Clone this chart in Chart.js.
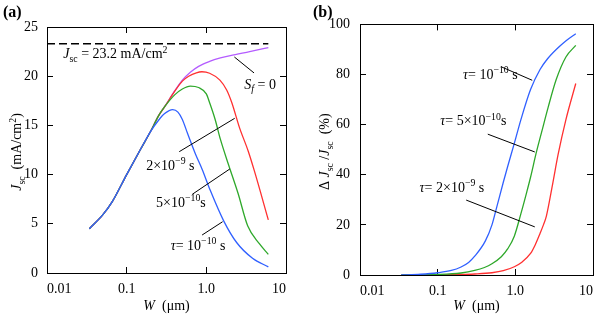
<!DOCTYPE html>
<html>
<head>
<meta charset="utf-8">
<script src="https://cdn.jsdelivr.net/npm/chart.js"></script>
<style>
  body { margin: 0; background: #fff; }
  #wrap { position: relative; width: 607px; height: 317px; }
  canvas { position: absolute; top: 0; }
</style>
</head>
<body>
<div id="wrap">
  <canvas id="chartA" width="300" height="317" style="left:0"></canvas>
  <canvas id="chartB" width="307" height="317" style="left:300px"></canvas>
</div>
<script>
// axis ticks
const xTicks = [0.01, 0.1, 1, 10];
const xTickLabels = ["0.01", "0.1", "1.0", "10"];
const jscMax = 25;
const jscStep = 5;
const dJMax = 100;
const dJStep = 20;

// (a) Jsc vs W, shared rising part
const riseW = [0.034, 0.05, 0.066, 0.1, 0.15, 0.2];
const riseJ = [4.5, 5.9, 7.25, 10.0, 12.6, 14.4];

const sf0W = [0.25, 0.3, 0.4, 0.5, 0.63, 0.8, 1.1, 1.5, 2, 3.5, 6];
const sf0J = [15.95, 16.9, 18.5, 19.6, 20.4, 21.0, 21.5, 21.85, 22.1, 22.5, 22.9];

const tau2e9W = [0.25, 0.3, 0.4, 0.5, 0.6, 0.75, 0.88, 1.1, 1.48, 1.8, 2.09, 2.6, 3.35, 4.0, 6];
const tau2e9J = [15.95, 16.9, 18.45, 19.5, 20.0, 20.35, 20.45, 20.3, 19.6, 18.6, 17.3, 14.8, 12.4, 10.4, 5.4];

const tau5e10W = [0.25, 0.3, 0.4, 0.5, 0.63, 0.8, 1.0, 1.1, 1.29, 1.5, 1.9, 2.5, 3.3, 4.6, 6];
const tau5e10J = [15.95, 16.9, 18.1, 18.7, 19.0, 18.85, 18.2, 17.3, 15.6, 13.6, 11.0, 8.1, 4.8, 3.0, 1.9];

const tau1e10W = [0.25, 0.3, 0.378, 0.44, 0.5, 0.58, 0.73, 0.89, 1.12, 1.65, 2.4, 3.8, 6];
const tau1e10J = [15.5, 16.2, 16.6, 16.35, 15.6, 14.2, 12.1, 10.5, 8.4, 5.3, 3.1, 1.5, 0.62];

const jscLimitW = [0.01, 6];
const jscLimitJ = [23.3, 23.3];

// (b) relative loss dJsc/Jsc (%)
const d1e10W = [0.034, 0.06, 0.1, 0.15, 0.2, 0.25, 0.3, 0.41, 0.5, 0.575, 0.7, 0.8, 0.97, 1.18, 1.57, 2.08, 2.6, 3.36, 4.5, 6];
const d1e10P = [0, 0.3, 0.9, 1.8, 3.2, 5.0, 7.5, 13.5, 20, 27, 37, 43.5, 52.5, 62, 74, 82, 86.3, 90, 93.5, 96.3];

const d5e10W = [0.034, 0.1, 0.2, 0.3, 0.4, 0.5, 0.66, 0.8, 0.97, 1.18, 1.4, 1.57, 1.85, 2.18, 2.65, 3.36, 4.48, 6];
const d5e10P = [0, 0.2, 0.8, 1.8, 3, 4.5, 7.3, 10.5, 15.5, 24.5, 33, 39, 48.5, 57, 67, 78, 87, 91.6];

const d2e9W = [0.034, 0.1, 0.2, 0.3, 0.5, 0.7, 0.97, 1.2, 1.57, 1.8, 2.08, 2.3, 2.51, 3.05, 3.55, 4.48, 6];
const d2e9P = [0, 0.05, 0.2, 0.4, 0.9, 1.7, 3.3, 5, 8.6, 12, 16.6, 20, 23.5, 37, 48, 62, 76.4];

const BLUE = "#3060ff";
const GREEN = "#2ea82a";
const RED = "#ff3030";
const PURPLE = "#b45cff";
const SERIF = "'Liberation Serif', 'Times New Roman', serif";
const FS = 14;
const FS_SMALL = 9.8;

function pts(ws, ys) {
  return ws.map((w, i) => ({ x: w, y: ys[i] }));
}

function curve(data, color) {
  return {
    data,
    borderColor: color,
    borderWidth: 1.3,
    pointRadius: 0,
    cubicInterpolationMode: "monotone",
    fill: false
  };
}

function fontFor(kind) {
  if (kind === "i") return "italic " + FS + "px " + SERIF;
  if (kind === "sub" || kind === "sup") return FS_SMALL + "px " + SERIF;
  if (kind === "isub") return "italic " + FS_SMALL + "px " + SERIF;
  if (kind === "b") return "bold 16px " + SERIF;
  return FS + "px " + SERIF;
}

function drawRich(ctx, parts, x, y, align) {
  let w = 0;
  parts.forEach((p) => {
    ctx.font = fontFor(p[0]);
    w += ctx.measureText(p[1]).width;
  });
  let cx = align === "center" ? x - w / 2 : x;
  parts.forEach((p) => {
    ctx.font = fontFor(p[0]);
    let dy = 0;
    if (p[0] === "sub" || p[0] === "isub") dy = 3.5;
    if (p[0] === "sup") dy = -5.5;
    ctx.fillText(p[1], cx, y + dy);
    cx += ctx.measureText(p[1]).width;
  });
}

// draws labels, leader lines and axis titles
const notesPlugin = {
  id: "notes",
  afterDraw(chart, args, opts) {
    const ctx = chart.ctx;
    const xs = chart.scales.x;
    const ys = chart.scales.y;
    const area = chart.chartArea;
    ctx.save();
    ctx.fillStyle = "#000";
    ctx.strokeStyle = "#000";
    ctx.textBaseline = "alphabetic";
    ctx.textAlign = "left";
    ctx.lineWidth = 1;

    (opts.leaders || []).forEach((l) => {
      ctx.beginPath();
      ctx.moveTo(xs.getPixelForValue(l[0][0]), ys.getPixelForValue(l[0][1]));
      ctx.lineTo(xs.getPixelForValue(l[1][0]), ys.getPixelForValue(l[1][1]));
      ctx.stroke();
    });

    (opts.labels || []).forEach((t) => {
      drawRich(ctx, t.parts, xs.getPixelForValue(t.at[0]), ys.getPixelForValue(t.at[1]), "left");
    });

    drawRich(ctx, opts.xTitle, (area.left + area.right) / 2, 310, "center");

    ctx.save();
    ctx.translate(opts.yTitleX, (area.top + area.bottom) / 2 + 2);
    ctx.rotate(-Math.PI / 2);
    drawRich(ctx, opts.yTitle, 0, 0, "center");
    ctx.restore();

    drawRich(ctx, [["b", opts.panel]], opts.panelX, 17, "left");
    ctx.restore();
  }
};

function logAxis(position, size, pad) {
  return {
    type: "logarithmic",
    position,
    min: 0.01,
    max: 10,
    afterBuildTicks(scale) {
      scale.ticks = xTicks.map((v) => ({ value: v }));
    },
    afterFit(scale) {
      scale.height = size;
    },
    ticks: {
      display: position === "bottom",
      align: "inner",
      autoSkip: false,
      maxRotation: 0,
      padding: pad,
      color: "#000",
      font: { family: SERIF, size: FS },
      callback(value) {
        return xTickLabels[xTicks.indexOf(value)];
      }
    },
    grid: { drawOnChartArea: false, tickLength: -6, color: "#000", lineWidth: 1 },
    border: { display: true, color: "#000", width: 1 }
  };
}

function linAxis(position, max, step, size, pad) {
  return {
    type: "linear",
    position,
    min: 0,
    max,
    afterFit(scale) {
      scale.width = size;
    },
    ticks: {
      display: position === "left",
      stepSize: step,
      padding: pad,
      color: "#000",
      font: { family: SERIF, size: FS }
    },
    grid: { drawOnChartArea: false, tickLength: -6, color: "#000", lineWidth: 1 },
    border: { display: true, color: "#000", width: 1 }
  };
}

function baseOptions(scales, notes) {
  return {
    responsive: false,
    devicePixelRatio: 1,
    animation: false,
    layout: { padding: 0 },
    plugins: { legend: { display: false }, tooltip: { enabled: false }, notes },
    scales
  };
}

new Chart(document.getElementById("chartA"), {
  type: "line",
  data: {
    datasets: [
      {
        data: pts(jscLimitW, jscLimitJ),
        borderColor: "#000",
        borderWidth: 1.5,
        borderDash: [8, 4],
        pointRadius: 0
      },
      curve(pts(riseW.concat(tau1e10W), riseJ.concat(tau1e10J)), BLUE),
      curve(pts(riseW.concat(tau5e10W), riseJ.concat(tau5e10J)), GREEN),
      curve(pts(riseW.concat(tau2e9W), riseJ.concat(tau2e9J)), RED),
      curve(pts(riseW.concat(sf0W), riseJ.concat(sf0J)), PURPLE)
    ]
  },
  options: baseOptions(
    {
      x: logAxis("bottom", 44, 14),
      xTop: logAxis("top", 27, 0),
      y: linAxis("left", jscMax, jscStep, 47, 15),
      yRight: linAxis("right", jscMax, jscStep, 9, 0)
    },
    {
      panel: "(a)",
      panelX: 3,
      yTitleX: 21,
      xTitle: [["i", "W"], ["n", "  (μm)"]],
      yTitle: [["i", "J"], ["sub", "sc"], ["n", "  (mA/cm"], ["sup", "2"], ["n", ")"]],
      labels: [
        { at: [0.016, 21.8], parts: [["i", "J"], ["sub", "sc"], ["n", " = 23.2 mA/cm"], ["sup", "2"]] },
        { at: [3.0, 18.75], parts: [["i", "S"], ["isub", "f"], ["n", " = 0"]] },
        { at: [0.176, 10.47], parts: [["n", "2×10"], ["sup", "−9"], ["n", " s"]] },
        { at: [0.234, 6.74], parts: [["n", "5×10"], ["sup", "−10"], ["n", "s"]] },
        { at: [0.357, 2.34], parts: [["i", "τ"], ["n", "= 10"], ["sup", "−10"], ["n", " s"]] }
      ],
      leaders: [
        [[2.25, 21.95], [3.97, 20.33]],
        [[0.457, 12.33], [2.27, 15.72]],
        [[0.667, 8.0], [1.97, 10.57]],
        [[0.885, 3.86], [1.6, 5.21]]
      ]
    }
  ),
  plugins: [notesPlugin]
});

new Chart(document.getElementById("chartB"), {
  type: "line",
  data: {
    datasets: [
      curve(pts(d1e10W, d1e10P), BLUE),
      curve(pts(d5e10W, d5e10P), GREEN),
      curve(pts(d2e9W, d2e9P), RED)
    ]
  },
  options: baseOptions(
    {
      x: logAxis("bottom", 42, 14),
      xTop: logAxis("top", 24, 0),
      y: linAxis("left", dJMax, dJStep, 60, 16),
      yRight: linAxis("right", dJMax, dJStep, 6, 0)
    },
    {
      panel: "(b)",
      panelX: 13,
      yTitleX: 29,
      xTitle: [["i", "W"], ["n", "  (μm)"]],
      yTitle: [["n", "Δ "], ["i", "J"], ["sub", "sc"], ["n", " /"], ["i", "J"], ["sub", "sc"], ["n", "  (%)"]],
      labels: [
        { at: [0.212, 78.3], parts: [["i", "τ"], ["n", "= 10"], ["sup", "−10"], ["n", " s"]] },
        { at: [0.108, 59.8], parts: [["i", "τ"], ["n", "= 5×10"], ["sup", "−10"], ["n", "s"]] },
        { at: [0.0585, 33.2], parts: [["i", "τ"], ["n", "= 2×10"], ["sup", "−9"], ["n", " s"]] }
      ],
      leaders: [
        [[0.668, 83.0], [1.65, 77.7]],
        [[0.442, 56.2], [1.78, 49.1]],
        [[0.233, 29.9], [1.78, 19.2]]
      ]
    }
  ),
  plugins: [notesPlugin]
});
</script>
</body>
</html>
